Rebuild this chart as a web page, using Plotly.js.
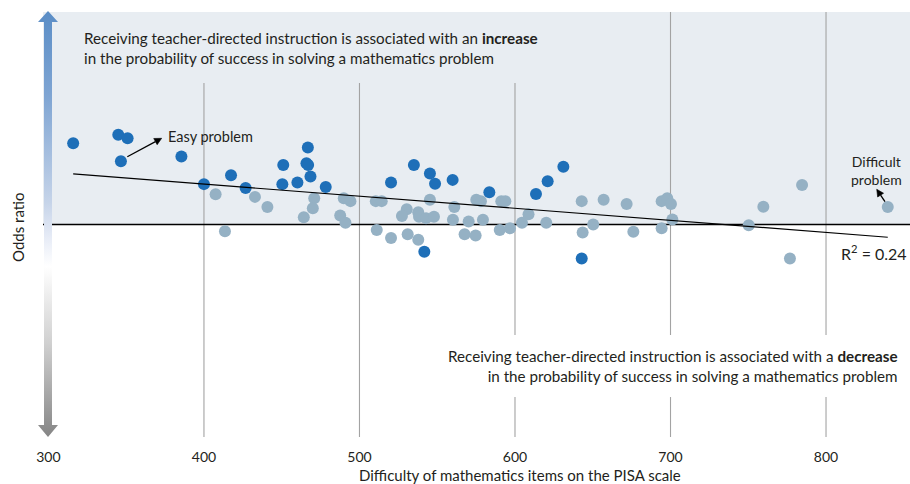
<!DOCTYPE html>
<html>
<head>
<meta charset="utf-8">
<script src="https://cdn.plot.ly/plotly-3.0.1.min.js"></script>
<style>html,body{margin:0;padding:0;background:#fff}#chart{width:910px;height:484px}</style>
</head>
<body>
<div id="chart"></div>
<script>
// Items where teacher-directed instruction has a significant association (dark blue)
const sigX = [315.9, 344.9, 350.9, 346.6, 385.5, 400.0, 417.4, 426.8, 451.0, 450.4, 460.1, 466.8, 465.9, 467.0, 468.5, 478.3, 520.3, 535.0, 545.3, 548.6, 559.9, 583.5, 613.5, 621.0, 631.1, 541.7, 642.9];
const sigY = [1.191, 1.211, 1.203, 1.149, 1.160, 1.095, 1.116, 1.086, 1.140, 1.095, 1.099, 1.181, 1.144, 1.140, 1.113, 1.088, 1.099, 1.140, 1.120, 1.096, 1.105, 1.076, 1.072, 1.102, 1.136, 0.936, 0.920];
// Items with non-significant association (light blue-grey)
const nsX = [407.5, 432.8, 440.8, 413.5, 470.9, 470.0, 464.2, 487.6, 491.0, 489.9, 494.2, 510.5, 514.3, 511.1, 520.3, 530.4, 527.3, 537.8, 538.3, 542.8, 547.9, 545.3, 531.0, 537.8, 561.0, 560.1, 570.2, 579.4, 567.6, 574.7, 575.1, 578.1, 591.2, 593.8, 590.2, 596.8, 604.5, 608.7, 620.1, 642.9, 643.5, 650.3, 657.0, 671.8, 676.1, 694.3, 697.9, 700.3, 694.3, 701.2, 750.3, 759.7, 776.8, 784.6, 839.7];
const nsY = [1.071, 1.065, 1.041, 0.984, 1.062, 1.038, 1.017, 1.021, 1.004, 1.062, 1.055, 1.055, 1.055, 0.987, 0.968, 1.036, 1.020, 1.029, 1.018, 1.015, 1.018, 1.058, 0.977, 0.964, 1.041, 1.011, 1.007, 1.011, 0.977, 0.974, 1.058, 1.055, 1.055, 1.055, 0.987, 0.991, 1.004, 1.024, 1.004, 1.055, 0.981, 1.000, 1.058, 1.048, 0.983, 1.055, 1.062, 1.048, 0.991, 1.012, 0.998, 1.042, 0.920, 1.093, 1.041];
// Linear trend
const trendX = [315.9, 839.7];
const trendY = [1.119, 0.970];
const xTicks = [300, 400, 500, 600, 700, 800];
const xTickLabels = ['300', '400', '500', '600', '700', '800'];
const gridVals = [400, 500, 600, 700, 800];

const FONT = 'Lato, "Open Sans", sans-serif';
const TXT = '#231f20';

// gridline segments (vertical), interrupted behind the explanatory texts
const shapes = [
  {type:'rect', xref:'paper', yref:'y', x0:0, x1:1, y0:1, y1:1.5, fillcolor:'#e8edf2', line:{width:0}, layer:'below'}
];
gridVals.forEach(v => {
  const top = (v <= 600) ? 0.833 : 1;
  const gap = (v >= 600);
  const segs = gap ? [[0, 0.094], [0.24, top]] : [[0, top]];
  segs.forEach(s => shapes.push({type:'line', xref:'x', yref:'paper', x0:v, x1:v, y0:s[0], y1:s[1], line:{color:'#a3a3a3', width:1.1}, layer:'below'}));
});
shapes.push({type:'line', xref:'paper', yref:'y', x0:0, x1:1, y0:1, y1:1, line:{color:'#000', width:1.5}, layer:'below'});

// pointer arrows (annotation callouts): shaft + head
shapes.push({type:'line', xref:'x', yref:'y', x0:350.7, y0:1.1595, x1:368.8, y1:1.1951, line:{color:'#000', width:1.3}, layer:'above'});
shapes.push({type:'path', xref:'x', yref:'y', path:'M372.8,1.2028 L369.9,1.1878 L367.7,1.2024 Z', fillcolor:'#000', line:{color:'#000', width:0.6}, layer:'above'});
shapes.push({type:'line', xref:'x', yref:'y', x0:837.9, y0:1.0536, x1:835.1, y1:1.0692, line:{color:'#000', width:1.3}, layer:'above'});
shapes.push({type:'path', xref:'x', yref:'y', path:'M832.6,1.0828 L837.0,1.0736 L833.2,1.0647 Z', fillcolor:'#000', line:{color:'#000', width:0.6}, layer:'above'});

const svg = "<svg xmlns='http://www.w3.org/2000/svg' width='24' height='426' viewBox='0 0 24 426' preserveAspectRatio='none'>" +
  "<defs><linearGradient id='g' x1='0' y1='0' x2='0' y2='1'>" +
  "<stop offset='0' stop-color='#5a8dc6'/><stop offset='0.2' stop-color='#7fa5d3'/><stop offset='0.45' stop-color='#c6d4e9'/>" +
  "<stop offset='0.53' stop-color='#e6ebf6'/><stop offset='0.6' stop-color='#ffffff'/><stop offset='0.78' stop-color='#d0d0d0'/><stop offset='1' stop-color='#858585'/>" +
  "</linearGradient></defs>" +
  "<path d='M12 0 L22 11 L16 11 L16 414 L22 414 L12 426 L2 414 L8 414 L8 11 L2 11 Z' fill='url(#g)'/></svg>";

const traces = [
  {x: nsX, y: nsY, type:'scatter', mode:'markers', marker:{color:'#95b1c4', size:12}, hoverinfo:'x+y', showlegend:false},
  {x: sigX, y: sigY, type:'scatter', mode:'markers', marker:{color:'#1e6fb8', size:12}, hoverinfo:'x+y', showlegend:false},
  {x: trendX, y: trendY, type:'scatter', mode:'lines', line:{color:'#000', width:1.2}, hoverinfo:'skip', showlegend:false}
];

const annotations = [
  {xref:'paper', yref:'paper', x:0.045, y:0.915, xanchor:'left', yanchor:'middle', align:'left', showarrow:false,
   text:'Receiving teacher-directed instruction is associated with an <b>increase</b><br>in the probability of success in solving a mathematics problem',
   font:{family:FONT, size:15.2, color:TXT}},
  {xref:'paper', yref:'paper', x:0.988, y:0.167, xanchor:'right', yanchor:'middle', align:'right', showarrow:false,
   text:'Receiving teacher-directed instruction is associated with a <b>decrease</b><br>in the probability of success in solving a mathematics problem',
   font:{family:FONT, size:15.2, color:TXT}},
  {xref:'x', yref:'y', x:375.5, y:1.208, xanchor:'left', yanchor:'middle', showarrow:false, text:'Easy problem', font:{family:FONT, size:14.5, color:TXT}},
  {xref:'x', yref:'y', x:832.2, y:1.126, xanchor:'center', yanchor:'middle', showarrow:false, text:'Difficult<br>problem', font:{family:FONT, size:14, color:TXT}},
  {xref:'x', yref:'y', x:808.5, y:0.933, xanchor:'left', yanchor:'middle', showarrow:false, text:'R<sup>2</sup> = 0.24', font:{family:FONT, size:16, color:TXT}},
  {xref:'paper', yref:'paper', x:0.550, y:-0.0894, xanchor:'center', yanchor:'middle', showarrow:false, text:'Difficulty of mathematics items on the PISA scale', font:{family:FONT, size:15, color:TXT}},
  {xref:'paper', yref:'paper', x:-0.0288, y:0.492, xanchor:'center', yanchor:'middle', showarrow:false, textangle:-90, text:'Odds ratio', font:{family:FONT, size:15, color:TXT}}
];

const layout = {
  width:910, height:484,
  margin:{l:43, r:0, t:12, b:47},
  paper_bgcolor:'#ffffff', plot_bgcolor:'#ffffff',
  xaxis:{range:[296.5, 854], tickvals:xTicks, ticktext:xTickLabels, showgrid:false, zeroline:false, showline:false,
         ticks:'outside', ticklen:7, tickcolor:'rgba(0,0,0,0)', tickfont:{family:FONT, size:14, color:TXT}, fixedrange:true},
  yaxis:{range:[0.5, 1.5], visible:false, fixedrange:true},
  shapes: shapes,
  annotations: annotations,
  images:[{source:'data:image/svg+xml;charset=utf-8,' + encodeURIComponent(svg), xref:'paper', yref:'paper',
           x:-0.00807, y:1.00235, sizex:0.02768, sizey:1.00235, xanchor:'left', yanchor:'top', sizing:'stretch', layer:'above'}],
  showlegend:false
};

Plotly.newPlot('chart', traces, layout, {displayModeBar:false, staticPlot:true});
</script>
</body>
</html>
